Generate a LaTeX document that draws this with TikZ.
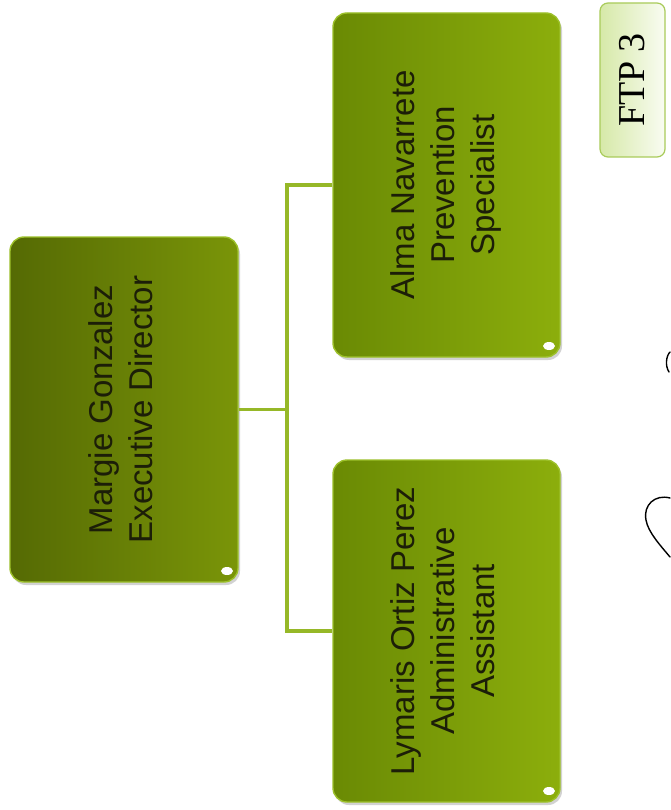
\documentclass[tikz,border=0pt]{standalone}
\usepackage{fontspec}
\setmainfont{Liberation Sans}
\newfontfamily\ftpfont{Liberation Serif}
\usetikzlibrary{shadows}
\definecolor{mdark}{HTML}{556A04}
\definecolor{mlight}{HTML}{7A9508}
\definecolor{sdark}{HTML}{6A8A04}
\definecolor{slight}{HTML}{8CAE0C}
\definecolor{edgegreen}{HTML}{9CC02A}
\definecolor{connc}{HTML}{96B828}
\definecolor{ftpbg}{HTML}{D6E9A8}
\definecolor{ftpedge}{HTML}{A9CB5A}
\definecolor{txt}{HTML}{1C1E08}
\tikzset{
  orgbox/.style={rectangle, rounded corners=14pt, draw=edgegreen, line width=1.4pt,
    inner sep=0pt, text=txt, font=\fontsize{33}{40}\selectfont,
    drop shadow={shadow xshift=2pt, shadow yshift=-3pt, opacity=0.35}},
  topbox/.style={orgbox, left color=mdark, right color=mlight},
  subbox/.style={orgbox, left color=sdark, right color=slight},
  ftpbox/.style={rectangle, rounded corners=8pt, draw=ftpedge, line width=1.2pt,
    left color=ftpbg, right color=white!85!ftpbg, inner sep=0pt,
    font=\ftpfont\fontsize{38}{40}\selectfont, text=black},
  conn/.style={draw=connc, line width=3.5pt},
  glint/.style={fill=white, draw=none},
  scribble/.style={draw=black, line width=1.4pt, line cap=round}
}
\begin{document}
\begin{tikzpicture}[x=1pt,y=-1pt]
\useasboundingbox (0,0) rectangle (670,810);
\fill[white] (0,0) rectangle (670,810);
% nodes
\node[topbox, minimum width=228pt, minimum height=345pt] (margie) at (124,409.5)
  {\rotatebox{90}{\begin{tabular}{@{}c@{}}Margie Gonzalez\\Executive Director\end{tabular}}};
\node[subbox, minimum width=227pt, minimum height=344pt] (alma) at (446.5,185)
  {\rotatebox{90}{\begin{tabular}{@{}c@{}}Alma Navarrete\\Prevention\\Specialist\end{tabular}}};
\node[subbox, minimum width=227pt, minimum height=342pt] (lymaris) at (446.5,631)
  {\rotatebox{90}{\begin{tabular}{@{}c@{}}Lymaris Ortiz Perez\\Administrative\\Assistant\end{tabular}}};
\node[ftpbox, minimum width=65pt, minimum height=154pt] (ftp) at (632.5,80)
  {\rotatebox{90}{FTP 3}};
% glints
\fill[glint] (227,571) ellipse (6pt and 4pt);
\fill[glint] (549,346) ellipse (6pt and 4pt);
\fill[glint] (549,791) ellipse (6pt and 4pt);
% connectors
\coordinate (bus) at (287,409.5);
\draw[conn] (margie.east) -- (bus);
\draw[conn] (alma.west) -| (bus) |- (lymaris.west);
% handwritten marks
\draw[scribble] (670,352) .. controls (666,356) and (665,366) .. (669,372);
\draw[scribble] (670,498) .. controls (655,494) and (643,505) .. (646,520)
  .. controls (648,532) and (660,545) .. (670,557);
\end{tikzpicture}
\end{document}
